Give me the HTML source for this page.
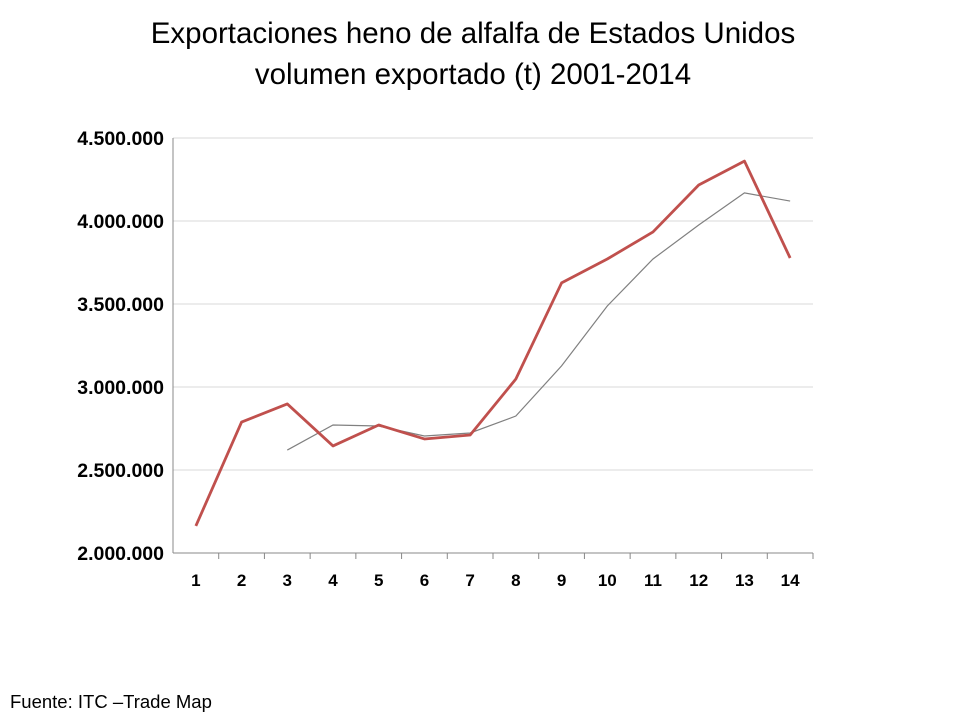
<!DOCTYPE html>
<html><head><meta charset="utf-8"><style>
body{margin:0;width:960px;height:720px;background:#fff;font-family:"Liberation Sans",sans-serif;overflow:hidden}
</style></head><body>
<svg width="960" height="720">
<text x="473" y="43" text-anchor="middle" font-size="29.5" fill="#000">Exportaciones heno de alfalfa de Estados Unidos</text>
<text x="473" y="84" text-anchor="middle" font-size="29.5" fill="#000">volumen exportado (t) 2001-2014</text>
<g id="grid"></g>
<g id="yt"></g>
<g id="xt"></g>
<path id="avg" fill="none" stroke="#808080" stroke-width="1.2"/>
<path id="main" fill="none" stroke="#c0504d" stroke-width="2.8" stroke-linejoin="round"/>
<text x="10" y="708" font-size="18.5" fill="#000">Fuente: ITC –Trade Map</text>
</svg>
<script>
const categories=["1","2","3","4","5","6","7","8","9","10","11","12","13","14"];
const exportValues=[2163000,2789000,2898000,2645000,2771000,2687000,2711000,3048000,3627000,3771000,3934000,4217000,4361000,3777000];
const avgValues=[null,null,2620000,2771000,2765000,2705000,2723000,2825000,3127000,3488000,3771000,3976000,4169000,4120000];
const yTicks=[2000000,2500000,3000000,3500000,4000000,4500000];
const yTickLabels=["2.000.000","2.500.000","3.000.000","3.500.000","4.000.000","4.500.000"];
const X0=173,X1=813,Y0=553,Y1=138,ymin=2000000,ymax=4500000;
const bw=(X1-X0)/categories.length;
const xs=i=>X0+bw*(i+0.5);
const ys=v=>Y0-(v-ymin)/(ymax-ymin)*(Y0-Y1);
const NS="http://www.w3.org/2000/svg";
const grid=document.getElementById('grid'),yt=document.getElementById('yt'),xt=document.getElementById('xt');
yTicks.forEach((t,i)=>{
 const l=document.createElementNS(NS,'line');
 
 
 l.setAttribute('x1',X0);l.setAttribute('x2',X1);l.setAttribute('y1',ys(t));l.setAttribute('y2',ys(t));
 l.setAttribute('stroke',i==0?'#888':'#d9d9d9');l.setAttribute('stroke-width','1');
 grid.appendChild(l);
 const tx=document.createElementNS(NS,'text');
 
 
 tx.setAttribute('x',X0-9);tx.setAttribute('y',ys(t)+7);tx.setAttribute('text-anchor','end');
 tx.setAttribute('font-size','19.5');tx.setAttribute('font-weight','bold');
 tx.textContent=yTickLabels[i];yt.appendChild(tx);
});
const ax=document.createElementNS(NS,'line');


ax.setAttribute('x1',X0);ax.setAttribute('x2',X0);ax.setAttribute('y1',Y1);ax.setAttribute('y2',Y0);ax.setAttribute('stroke','#888');
grid.appendChild(ax);
categories.forEach((c,i)=>{
 const tk=document.createElementNS(NS,'line');
 
 
 const x=X0+bw*(i+1);
 tk.setAttribute('x1',x);tk.setAttribute('x2',x);tk.setAttribute('y1',Y0);tk.setAttribute('y2',Y0+6);tk.setAttribute('stroke','#888');
 xt.appendChild(tk);
 const tx=document.createElementNS(NS,'text');
 
 
 tx.setAttribute('x',xs(i));tx.setAttribute('y',Y0+33);tx.setAttribute('text-anchor','middle');
 tx.setAttribute('font-size','17');tx.setAttribute('font-weight','bold');
 tx.textContent=c;xt.appendChild(tx);
});
function path(vals){let d='';vals.forEach((v,i)=>{if(v==null)return;d+=(d?'L':'M')+xs(i)+','+ys(v);});return d;}
document.getElementById('main').setAttribute('d',path(exportValues));
document.getElementById('avg').setAttribute('d',path(avgValues));
</script>
</body></html>
